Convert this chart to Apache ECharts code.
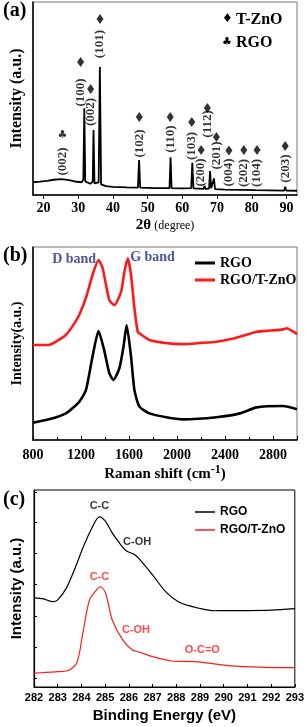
<!DOCTYPE html>
<html><head><meta charset="utf-8">
<script src="https://cdn.jsdelivr.net/npm/echarts@6/dist/echarts.min.js"></script>
<style>html,body{margin:0;padding:0;background:#fff}#c{width:307px;height:727px}</style>
</head><body><div id="c"></div>
<script>
// ---------- (a) XRD ----------
const xrdX = [17,19,21,23,25,27,29,31.0,31.5,31.77,32.05,33.5,34.2,34.42,34.7,35.9,36.25,36.6,38,40,44,47.2,47.54,47.85,52,56.3,56.6,56.9,60,62.55,62.86,63.2,66.1,66.38,66.7,67.7,67.96,68.3,68.85,69.1,69.4,72.3,72.56,72.8,76.7,76.95,77.2,81.1,81.37,81.6,89.3,89.6,89.9,93];
const xrdY = [6.6,6.9,7.3,7.9,8.2,7.8,7.0,6.6,8,45,7,5.8,7,33.7,6,6.5,66.3,5.5,4.6,4.2,3.9,3.8,18.1,3.8,3.6,3.6,19.5,3.6,3.4,3.6,16.7,3.4,3.2,4.7,3.1,3.4,12.4,3.5,3.4,8.6,3.0,2.8,3.3,2.8,2.7,3.6,2.7,2.5,2.9,2.5,2.3,4.3,2.3,2.2];
const xrdTicks = [20,30,40,50,60,70,80,90];
const znoHkl = ['(100)','(002)','(101)','(102)','(110)','(103)','(200)','(112)','(201)','(004)','(202)','(104)','(203)'];
const znoPos = [30.7,33.6,36.3,47.6,56.5,62.7,65.4,67.2,69.8,73.4,77.7,81.5,89.6];
const znoLabelY = [53.1,43,78.2,26.7,29,25.4,11.7,36.8,20.5,11.7,11.4,11.4,13.7];
const znoMarkY = [68.9,54.9,91.2,40.4,40.4,37.8,23.3,45.1,30,23,23.3,23.3,25.4];
const rgoHkl = ['(002)'];
const rgoPos = [25.5];
const rgoLabelY = [17.4];
const rgoMarkY = [31];

// ---------- (b) Raman ----------
const ramanXComp = [800,930,1000,1073,1130,1185,1241,1296,1346,1380,1436,1478,1534,1562,1590,1617,1645,1673,1687,1770,1900,2050,2200,2329,2450,2524,2600,2663,2780,2883,2914,2960,3000];
const ramanComp  = [49.2,49.2,51.3,54.4,59,64.8,73.6,85.5,93.3,89.1,72.5,69.9,76.8,87.2,94.1,85.5,68.4,56,55.3,51.8,50.3,49.7,50.3,50.9,52.3,53.5,54.9,56.1,56.7,57.3,57.9,56.5,54.9];
const ramanXRgo = [800,934,1073,1185,1241,1296,1346,1393,1436,1470,1520,1554,1580,1617,1645,1687,1770,1910,2050,2329,2524,2663,2883,3000];
const ramanRgo  = [9,10.7,13.8,19.8,25.9,43.2,56.5,46.6,34.6,31.1,37.2,48.3,59.5,43.2,25.9,17.3,13.8,11.8,10.7,11.8,13.8,16.9,17.6,15.9];
const ramanBands = ['D band','G band'];
const ramanBandX = [1143,1796];
const ramanBandY = [93.8,94.8];

// ---------- (c) XPS C1s ----------
const xpsXRgo = [282,282.4,282.8,283.0,283.37,283.7,284.06,284.4,284.76,285.0,285.3,285.6,285.9,286.2,286.4,287,287.55,288.1,288.5,288.9,289.6,290,291,292,293];
const xpsRgo  = [45.2,44.7,43.3,44.2,50.3,59.4,70.6,79.7,86.4,84.3,78.2,73.1,69,67.5,65.5,56.9,48.4,43.1,41.4,40.1,38.7,38.8,38.8,39,39.8];
const xpsXComp = [282,282.5,283,283.37,283.8,284.06,284.34,284.6,284.8,285.0,285.1,285.3,285.74,286.15,286.4,287,287.8,288.9,290.3,291.7,293];
const xpsComp  = [7,7.4,7.8,8.1,12.2,27.4,44.2,48.7,50.9,48.2,44.2,34,23.9,18.8,17.9,15.4,13.2,12.8,10.7,10,9.8];
const xpsLabels = ['C-C','C-OH','C-C','C-OH','O-C=O'];
const xpsLabelX = [284.76,286.35,284.76,286.3,289.1];
const xpsLabelY = [91.9,73.8,56,28.9,18.8];
const xpsLabelColor = ['#000','#000','#ff1a1a','#ff1a1a','#ff1a1a'];

const SERIF = '"Liberation Serif","Times New Roman",serif';
const SANS = '"Liberation Sans",Arial,sans-serif';
const RED = '#ff1a1a';

const pairs = (xs, ys) => xs.map((x, i) => [x, ys[i]]);

const chart = echarts.init(document.getElementById('c'), null, {renderer: 'canvas'});

const hiddenY = (gi, name, font, gap) => ({
  gridIndex: gi, type: 'value', min: 0, max: 100,
  axisLine: {show: true, lineStyle: {color: '#000', width: 1.5}},
  axisTick: {show: false}, axisLabel: {show: false}, splitLine: {show: false},
  name: name, nameLocation: 'middle', nameRotate: 90, nameGap: gap,
  nameTextStyle: font
});

const option = {
  animation: false,
  backgroundColor: '#fff',
  grid: [
    {left: 33, right: 10, top: 2, height: 193, show: true, borderColor: '#777', borderWidth: 1, backgroundColor: 'transparent'},
    {left: 33, right: 10, top: 247, height: 193, show: true, borderColor: '#777', borderWidth: 1, backgroundColor: 'transparent'},
    {left: 34, right: 10, top: 490, height: 197, show: true, borderColor: '#000', borderWidth: 1, backgroundColor: 'transparent'}
  ],
  xAxis: [
    {
      gridIndex: 0, type: 'value', min: 17, max: 93,
      axisLine: {lineStyle: {color: '#000', width: 1.5}},
      axisTick: {show: true, customValues: xrdTicks, length: 4, inside: false, lineStyle: {color: '#000'}},
      axisLabel: {customValues: xrdTicks, margin: 6, color: '#000', fontFamily: SERIF, fontWeight: 'bold', fontSize: 14},
      splitLine: {show: false},
      name: '{a|2θ} {b|(degree)}', nameLocation: 'middle', nameGap: 23,
      nameTextStyle: {rich: {
        a: {fontFamily: SERIF, fontWeight: 'bold', fontSize: 15, color: '#000'},
        b: {fontFamily: SERIF, fontSize: 12, color: '#000'}
      }}
    },
    {
      gridIndex: 1, type: 'value', min: 800, max: 3000, interval: 400,
      axisLine: {lineStyle: {color: '#000', width: 1.5}},
      axisTick: {show: true, inside: true, length: 4, lineStyle: {color: '#000'}},
      minorTick: {show: true, splitNumber: 2, length: 3, lineStyle: {color: '#000'}},
      axisLabel: {margin: 8, color: '#000', fontFamily: SERIF, fontWeight: 'bold', fontSize: 14, formatter: v => String(v)},
      splitLine: {show: false}, minorSplitLine: {show: false},
      name: '{a|Raman shift (cm}{s|-1}{a|)}', nameLocation: 'middle', nameGap: 24,
      nameTextStyle: {rich: {
        a: {fontFamily: SERIF, fontWeight: 'bold', fontSize: 15, color: '#000'},
        s: {fontFamily: SERIF, fontWeight: 'bold', fontSize: 12, color: '#000', verticalAlign: 'top', padding: [0, 0, 8, 0]}
      }}
    },
    {
      gridIndex: 2, type: 'value', min: 282, max: 293, interval: 1,
      axisLine: {lineStyle: {color: '#000', width: 1.2}},
      axisTick: {show: true, inside: true, length: 3, lineStyle: {color: '#000'}},
      axisLabel: {margin: 5, color: '#000', fontFamily: SANS, fontWeight: 'bold', fontSize: 11},
      splitLine: {show: false},
      name: 'Binding Energy (eV)', nameLocation: 'middle', nameGap: 21,
      nameTextStyle: {fontFamily: SANS, fontWeight: 'bold', fontSize: 15, color: '#000'}
    }
  ],
  yAxis: [
    hiddenY(0, 'Intensity (a.u.)', {fontFamily: SERIF, fontWeight: 'bold', fontSize: 16, color: '#000'}, 8),
    hiddenY(1, 'Intensity(a.u.)', {fontFamily: SERIF, fontWeight: 'bold', fontSize: 14, color: '#000'}, 9),
    Object.assign(hiddenY(2, 'Intensity (a.u.)', {fontFamily: SANS, fontWeight: 'bold', fontSize: 15, color: '#000'}, 10), {
      axisTick: {show: true, inside: true, length: 3, customValues: [4.6,20.3,36.1,52,67.7,83.4,99], lineStyle: {color: '#000'}},
      axisLine: {show: true, lineStyle: {color: '#000', width: 1.2}}
    })
  ],
  legend: [
    {
      data: ['RGO', 'RGO/T-ZnO'], left: 190, top: 251, orient: 'vertical',
      icon: 'rect', itemWidth: 20, itemHeight: 3, itemGap: 3,
      textStyle: {fontFamily: SERIF, fontWeight: 'bold', fontSize: 14, color: '#000'},
      selectedMode: false
    },
    {
      data: ['RGO', 'RGO/T-ZnO'], left: 190, top: 501, orient: 'vertical',
      icon: 'rect', itemWidth: 20, itemHeight: 1.5, itemGap: 6,
      textStyle: {fontFamily: SANS, fontWeight: 'bold', fontSize: 12, color: '#000'},
      selectedMode: false
    }
  ],
  graphic: [
    {type: 'text', left: 3, top: 1, style: {text: '(a)', font: 'bold 20px ' + SERIF, fill: '#000'}},
    {type: 'text', left: 3, top: 246, style: {text: '(b)', font: 'bold 20px ' + SERIF, fill: '#000'}},
    {type: 'text', left: 3, top: 490, style: {text: '(c)', font: 'bold 20px ' + SERIF, fill: '#000'}},
    {type: 'text', left: 222, top: 13, style: {text: '♦', font: '12px "DejaVu Sans"', fill: '#000'}},
    {type: 'text', left: 236, top: 12, style: {text: 'T-ZnO', font: 'bold 16px ' + SERIF, fill: '#000'}},
    {type: 'text', left: 222, top: 37, style: {text: '♣', font: '11px "DejaVu Sans"', fill: '#000'}},
    {type: 'text', left: 236, top: 35, style: {text: 'RGO', font: 'bold 16px ' + SERIF, fill: '#000'}}
  ],
  series: [
    {type: 'line', name: 'XRD', xAxisIndex: 0, yAxisIndex: 0, data: pairs(xrdX, xrdY), symbol: 'none',
     lineStyle: {color: '#000', width: 1.8}},
    {type: 'scatter', name: 'ZnO marks', xAxisIndex: 0, yAxisIndex: 0, data: pairs(znoPos, znoMarkY),
     symbol: 'diamond', symbolSize: [7, 10], itemStyle: {color: '#000'}, silent: true},
    {type: 'scatter', name: 'ZnO hkl', xAxisIndex: 0, yAxisIndex: 0,
     data: znoPos.map((x, i) => [x, znoLabelY[i], znoHkl[i]]),
     symbolSize: 1, itemStyle: {color: 'transparent'}, silent: true,
     label: {show: true, position: 'inside', rotate: 90, formatter: p => p.value[2],
             fontFamily: SERIF, fontWeight: 'bold', fontSize: 13, color: '#000'}},
    {type: 'scatter', name: 'RGO hkl', xAxisIndex: 0, yAxisIndex: 0,
     data: rgoPos.map((x, i) => [x, rgoLabelY[i], rgoHkl[i]]),
     symbolSize: 1, itemStyle: {color: 'transparent'}, silent: true,
     label: {show: true, position: 'inside', rotate: 90, formatter: p => p.value[2],
             fontFamily: SERIF, fontWeight: 'bold', fontSize: 13, color: '#000'}},
    {type: 'scatter', name: 'RGO mark', xAxisIndex: 0, yAxisIndex: 0,
     data: rgoPos.map((x, i) => [x, rgoMarkY[i]]),
     symbolSize: 1, itemStyle: {color: 'transparent'}, silent: true,
     label: {show: true, position: 'inside', formatter: '♣', fontFamily: '"DejaVu Sans"', fontSize: 11, color: '#000'}},

    {type: 'line', name: 'RGO', xAxisIndex: 1, yAxisIndex: 1, data: pairs(ramanXRgo, ramanRgo), symbol: 'none', smooth: 0.2,
     lineStyle: {color: '#000', width: 2.6}, itemStyle: {color: '#000'}},
    {type: 'line', name: 'RGO/T-ZnO', xAxisIndex: 1, yAxisIndex: 1, data: pairs(ramanXComp, ramanComp), symbol: 'none', smooth: 0.2,
     lineStyle: {color: RED, width: 2.6}, itemStyle: {color: RED}},
    {type: 'scatter', name: 'bands', xAxisIndex: 1, yAxisIndex: 1,
     data: ramanBandX.map((x, i) => [x, ramanBandY[i], ramanBands[i]]),
     symbolSize: 1, itemStyle: {color: 'transparent'}, silent: true,
     label: {show: true, position: 'inside', formatter: p => p.value[2],
             fontFamily: SERIF, fontWeight: 'bold', fontSize: 14, color: '#1c2a80'}},

    {type: 'line', name: 'RGO', xAxisIndex: 2, yAxisIndex: 2, data: pairs(xpsXRgo, xpsRgo), symbol: 'none', smooth: 0.3,
     lineStyle: {color: '#000', width: 1.2}, itemStyle: {color: '#000'}},
    {type: 'line', name: 'RGO/T-ZnO', xAxisIndex: 2, yAxisIndex: 2, data: pairs(xpsXComp, xpsComp), symbol: 'none', smooth: 0.3,
     lineStyle: {color: RED, width: 1.2}, itemStyle: {color: RED}},
    {type: 'scatter', name: 'xps labels', xAxisIndex: 2, yAxisIndex: 2,
     data: xpsLabelX.map((x, i) => ({value: [x, xpsLabelY[i], xpsLabels[i]],
       label: {color: xpsLabelColor[i]}})),
     symbolSize: 1, itemStyle: {color: 'transparent'}, silent: true,
     label: {show: true, position: 'inside', formatter: p => p.value[2],
             fontFamily: SANS, fontWeight: 'bold', fontSize: 11}}
  ]
};
chart.setOption(option);
</script>
</body></html>
